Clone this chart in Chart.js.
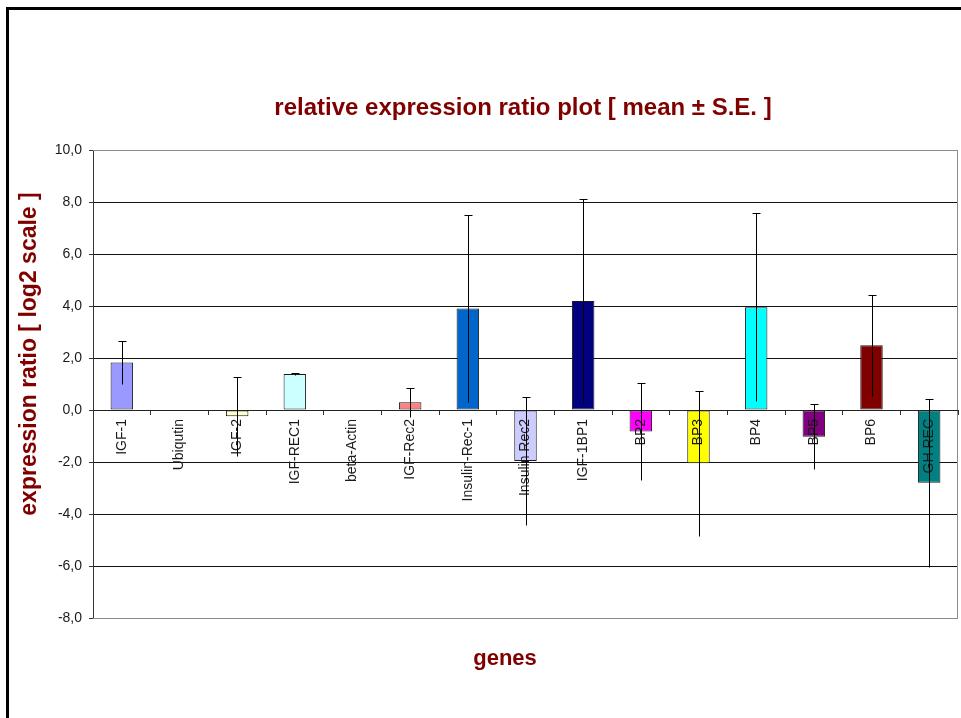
<!DOCTYPE html>
<html>
<head>
<meta charset="utf-8">
<title>relative expression ratio plot</title>
<script src="https://cdn.jsdelivr.net/npm/chart.js@4.4.1/dist/chart.umd.min.js"></script>
<style>
  html, body { margin: 0; padding: 0; background: #ffffff; }
  canvas { display: block; }
</style>
</head>
<body>
<canvas id="ratioChart" width="961" height="718"></canvas>
<script>
// Genes on the x axis
const genes = ['IGF-1', 'Ubiqutin', 'IGF-2', 'IGF-REC1', 'beta-Actin', 'IGF-Rec2',
  'Insulin-Rec-1', 'Insulin Rec2', 'IGF-1BP1', 'BP2', 'BP3', 'BP4', 'BP5', 'BP6', 'GH REC'];

// Mean relative expression ratio (log2) per gene
const meanRatio = [1.83, 0, -0.24, 1.38, 0, 0.30, 3.90, -1.96, 4.19, -0.83, -2.05, 3.95, -1.03, 2.49, -2.80];

// Standard error of each mean (reference genes carry none)
const stdError = [0.83, null, 1.52, 0.05, null, 0.55, 3.59, 2.46, 3.93, 1.86, 2.80, 3.62, 1.25, 1.94, 3.23];

// Fill colour of each bar
const barColours = ['#9999ff', '#993366', '#ffffcc', '#ccffff', '#660066', '#ff8080', '#0066cc',
  '#ccccff', '#000080', '#ff00ff', '#ffff00', '#00ffff', '#800080', '#800000', '#008080'];

// Value axis ticks
const yTicks = [-8, -6, -4, -2, 0, 2, 4, 6, 8, 10];

const FONT = '"Liberation Sans", Arial, Helvetica, sans-serif';
const TITLE_RED = '#800000';

// Page frame, plot border, error bars and the three titles
const decorations = {
  id: 'decorations',
  beforeDraw(chart) {
    const { ctx, width, height } = chart;
    ctx.save();
    ctx.fillStyle = '#ffffff';
    ctx.fillRect(0, 0, width, height);
    ctx.fillStyle = '#000000';
    ctx.fillRect(6, 7, width - 6, 3);
    ctx.fillRect(6, 7, 3, height - 7);
    ctx.restore();
  },
  beforeDatasetsDraw(chart) {
    const { ctx, chartArea: a } = chart;
    ctx.save();
    ctx.strokeStyle = '#8c8c8c';
    ctx.lineWidth = 1;
    ctx.beginPath();
    ctx.moveTo(a.left, Math.round(a.top) + 0.5);
    ctx.lineTo(Math.round(a.right) - 0.5, Math.round(a.top) + 0.5);
    ctx.lineTo(Math.round(a.right) - 0.5, Math.round(a.bottom) + 0.5);
    ctx.lineTo(a.left, Math.round(a.bottom) + 0.5);
    ctx.stroke();
    ctx.restore();
  },
  afterDraw(chart) {
    const { ctx } = chart;
    const yScale = chart.scales.y;
    const meta = chart.getDatasetMeta(0);

    // mean ± S.E. whiskers, capped at the upper end
    ctx.save();
    ctx.strokeStyle = '#000000';
    ctx.lineWidth = 1;
    meta.data.forEach((bar, i) => {
      const se = stdError[i];
      if (se == null) return;
      const x = Math.round(bar.x) + 0.5;
      const yHi = Math.round(yScale.getPixelForValue(meanRatio[i] + se)) + 0.5;
      const yLo = Math.round(yScale.getPixelForValue(meanRatio[i] - se)) + 0.5;
      ctx.beginPath();
      ctx.moveTo(x, yHi);
      ctx.lineTo(x, yLo);
      ctx.moveTo(x - 4, yHi);
      ctx.lineTo(x + 4, yHi);
      ctx.stroke();
    });
    ctx.restore();

    // titles
    ctx.save();
    ctx.fillStyle = TITLE_RED;
    ctx.textAlign = 'center';
    ctx.textBaseline = 'alphabetic';
    ctx.font = 'bold 24px ' + FONT;
    ctx.fillText('relative expression ratio plot [ mean \u00b1 S.E. ]', 523, 115);
    ctx.font = 'bold 22px ' + FONT;
    ctx.fillText('genes', 505, 665);
    ctx.translate(36, 354);
    ctx.rotate(-Math.PI / 2);
    ctx.font = 'bold 23px ' + FONT;
    ctx.fillText('expression ratio [ log2 scale ]', 0, 0);
    ctx.restore();
  }
};

new Chart(document.getElementById('ratioChart'), {
  type: 'bar',
  data: {
    labels: genes,
    datasets: [{
      data: meanRatio,
      backgroundColor: barColours,
      borderColor: '#1a1a1a',
      borderWidth: (c) => (meanRatio[c.dataIndex] === 0 ? 0 : 1),
      borderSkipped: false,
      barPercentage: 0.39,
      categoryPercentage: 1.0
    }]
  },
  options: {
    responsive: false,
    animation: false,
    devicePixelRatio: 1,
    layout: { padding: { left: 0, top: 150, right: 3, bottom: 100 } },
    plugins: {
      legend: { display: false },
      tooltip: { enabled: false },
      title: { display: false }
    },
    scales: {
      x: {
        position: { y: 0 },
        offset: true,
        grid: {
          offset: true,
          drawOnChartArea: false,
          drawTicks: true,
          tickLength: 4,
          tickColor: '#333333'
        },
        border: { color: '#222222', width: 1, z: 1 },
        ticks: {
          z: 1,
          autoSkip: false,
          minRotation: 90,
          maxRotation: 90,
          padding: 5,
          color: '#1a1a1a',
          font: { family: FONT, size: 14 }
        }
      },
      y: {
        min: -8,
        max: 10,
        afterFit(scale) { scale.width = 93; },
        afterBuildTicks(scale) { scale.ticks = yTicks.map((v) => ({ value: v })); },
        grid: {
          color: (c) => (c.tick && (c.tick.value === 10 || c.tick.value === -8) ? '#8c8c8c' : '#111111'),
          tickLength: 4,
          tickColor: '#333333'
        },
        border: { color: '#333333', width: 1 },
        ticks: {
          padding: 7,
          color: '#1a1a1a',
          font: { family: FONT, size: 14 },
          callback: (v) => Number(v).toFixed(1).replace('.', ',')
        }
      }
    }
  },
  plugins: [decorations]
});
</script>
</body>
</html>
